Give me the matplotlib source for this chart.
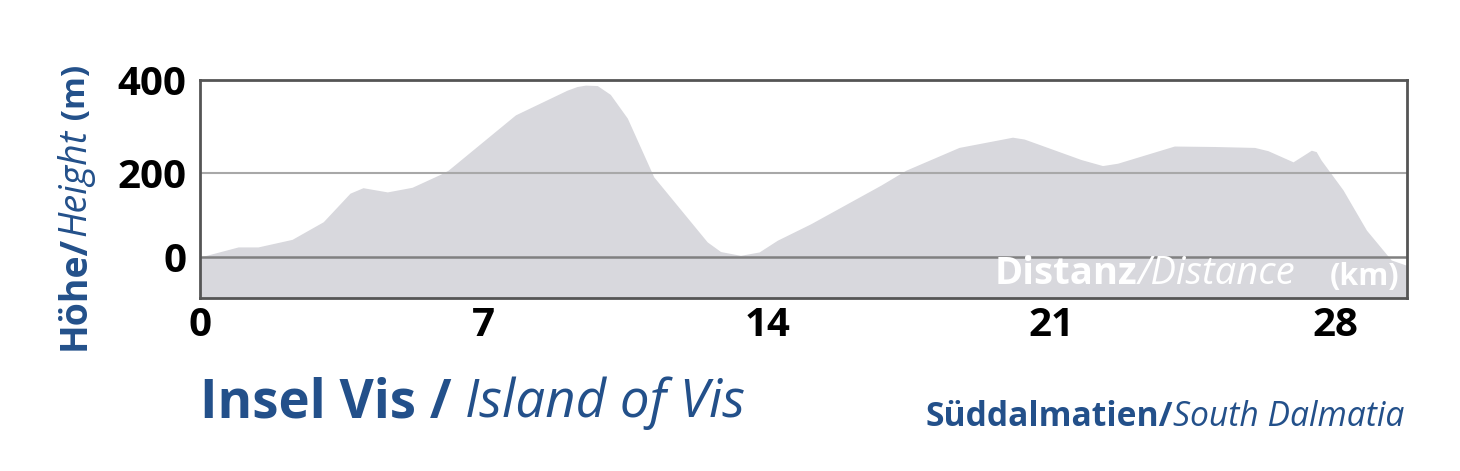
import matplotlib.pyplot as plt
import numpy as np

# elevation profile, island of Vis
km = [0, 0.94, 1.43, 2.27, 3.04, 3.70, 4.02, 4.62, 5.23, 5.93, 6.12,
      7.78, 9.05, 9.30, 9.51, 9.80, 10.12, 10.54, 11.19, 12.51, 12.84, 13.33,
      13.79, 14.24, 15.06, 16.79, 17.41, 18.72, 20.04, 20.33, 21.73, 22.26,
      22.63, 24.03, 25.02, 26.01, 26.34, 26.96, 27.41, 27.53, 27.65, 28.19,
      28.77, 29.38, 29.77]
height = [0, 24, 24, 42, 84, 152, 165, 155, 166, 197, 206,
          325, 378, 386, 389, 388, 369, 318, 191, 36, 13, 4,
          12, 40, 79, 171, 206, 255, 277, 273, 229, 216,
          221, 258, 257, 255, 248, 224, 249, 246, 228, 160,
          64, -7, -20]

x_ticks = [0, 7, 14, 21, 28]
y_ticks = [0, 200, 400]

BLUE = "#23508a"
FILL = "#d8d8dd"
W, H = 1460, 471


# the original drawing is stretched a bit more above 200 m than below
def fwd(y):
    y = np.asarray(y, dtype=float)
    return np.where(y <= 200, y * 84 / 200, 84 + (y - 200) * 93 / 200)


def inv(v):
    v = np.asarray(v, dtype=float)
    return np.where(v <= 84, v * 200 / 84, 200 + (v - 84) * 200 / 93)


def text_width(fig, s, size, weight, style):
    t = fig.text(0, 0, s, fontsize=size, fontweight=weight, fontstyle=style)
    w = t.get_window_extent(fig.canvas.get_renderer()).width
    t.remove()
    return w


def chain(fig, parts, x0, y0, color, rotation=0, align="left"):
    # parts: (text, size, weight, style, gap_px); x0, y0 in pixels from top-left
    # for rotated text x0 is the baseline x and y0 the lower end
    widths = [text_width(fig, s, size, wt, st) + gap for s, size, wt, st, gap in parts]
    pos = -sum(widths) if align == "right" else 0
    for (s, size, wt, st, gap), w in zip(parts, widths):
        if rotation:
            xy = (x0 / W, (H - y0 + pos) / H)
        else:
            xy = ((x0 + pos) / W, 1 - y0 / H)
        fig.text(*xy, s, fontsize=size, fontweight=wt, fontstyle=st, color=color,
                 rotation=rotation, rotation_mode="anchor",
                 ha="left", va="baseline")
        pos += w


plt.rcParams["font.family"] = ["Open Sans", "DejaVu Sans"]

fig = plt.figure(figsize=(14.6, 4.71), dpi=100)
ax = fig.add_axes([200 / W, 1 - 298 / H, 1207 / W, 218 / H])
ax.set_yscale("function", functions=(fwd, inv))

ybot = -97.6
ax.fill_between(km, height, ybot, color=FILL, lw=0, zorder=1)
ax.axhline(200, color="#a8a8a8", lw=1.5, zorder=2)
ax.axhline(0, color="#808080", lw=1.8, zorder=2)

ax.set_xlim(0, 29.77)
ax.set_ylim(ybot, 400)
ax.set_xticks(x_ticks)
ax.set_yticks(y_ticks)
ax.tick_params(length=0, labelsize=29)
ax.tick_params(axis="y", pad=10)
ax.tick_params(axis="x", pad=6)
for lab in ax.get_xticklabels() + ax.get_yticklabels():
    lab.set_fontweight("bold")
for s in ax.spines.values():
    s.set_color("#555555")
    s.set_linewidth(2)
    s.set_zorder(3)

fig.canvas.draw()

# distance label inside the plot
chain(fig, [("Distanz", 27.5, "bold", "normal", 0),
            ("/Distance", 27.5, "normal", "italic", 34),
            ("(km)", 22, "bold", "normal", 0)],
      1399, 284.5, "white", align="right")

# vertical axis title
chain(fig, [("Höhe/", 27, "bold", "normal", 0),
            ("Height", 27, "normal", "italic", 0),
            (" (m)", 24, "bold", "normal", 0)],
      85, 350, BLUE, rotation=90)

# titles
chain(fig, [("Insel Vis / ", 38, "bold", "normal", 0),
            ("Island of Vis", 38, "normal", "italic", 0)],
      200, 417, BLUE)
chain(fig, [("Süddalmatien/", 24.2, "bold", "normal", 0),
            ("South Dalmatia", 24.2, "normal", "italic", 0)],
      1404, 426, BLUE, align="right")

fig.savefig("out.png", dpi=100)
